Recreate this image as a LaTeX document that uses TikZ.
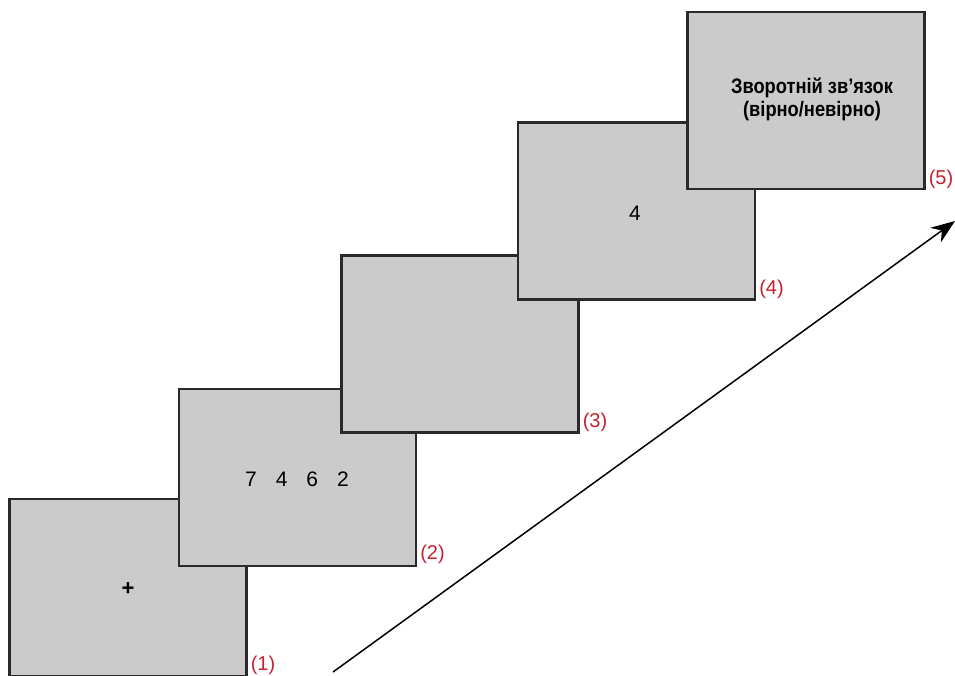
\documentclass[tikz,border=0pt]{standalone}
\usepackage{fontspec}
\setmainfont{Liberation Sans}
\usetikzlibrary{arrows.meta}
\definecolor{boxfill}{HTML}{CBCBCB}
\definecolor{boxline}{HTML}{2A2A2A}
\definecolor{lblred}{HTML}{C4222F}
\tikzset{
  screen/.style={draw=boxline, line width=2.1pt, fill=boxfill, minimum width=237pt, minimum height=177pt, inner sep=0pt, anchor=center},
  numlbl/.style={text=lblred, font=\fontsize{20}{20}\selectfont, inner sep=0pt, anchor=south west},
  bigtxt/.style={font=\fontsize{21}{21}\selectfont, inner sep=0pt},
}
\begin{document}
\begin{tikzpicture}[x=1pt,y=-1pt]
\useasboundingbox (0,0) rectangle (955,675);
\node[screen] (b1) at (128,587.5) {};
\node[screen] (b2) at (297.5,477.5) {};
\node[screen] (b3) at (460,344) {};
\node[screen] (b4) at (636.5,211) {};
\node[screen] (b5) at (806,100.5) {};
\node[bigtxt, font=\fontsize{22}{22}\bfseries\selectfont] (t1) at (128,589) {+};
\node[bigtxt] (t2) at (297,479) {7\hspace{19pt}4\hspace{19pt}6\hspace{19pt}2};
\node[bigtxt] (t4) at (635,213) {4};
\node[inner sep=0pt, align=center, font=\fontsize{21}{23}\bfseries\selectfont] (t5) at (812,99) {\scalebox{0.87}[1]{Зворотній звʼязок}\\\scalebox{0.87}[1]{(вірно/невірно)}};
\node[numlbl, xshift=3pt, yshift=2pt] (l1) at (b1.south east) {(1)};
\node[numlbl, xshift=3pt, yshift=3pt] (l2) at (b2.south east) {(2)};
\node[numlbl, xshift=3pt, yshift=2pt] (l3) at (b3.south east) {(3)};
\node[numlbl, xshift=3pt, yshift=2pt] (l4) at (b4.south east) {(4)};
\node[numlbl, xshift=3pt, yshift=1pt] (l5) at (b5.south east) {(5)};
\coordinate (a0) at (333,672);
\coordinate (a1) at (955,221);
\draw[line width=1.5pt, -{Stealth[length=24pt,width=18pt]}] (a0) -- (a1);
\end{tikzpicture}
\end{document}
